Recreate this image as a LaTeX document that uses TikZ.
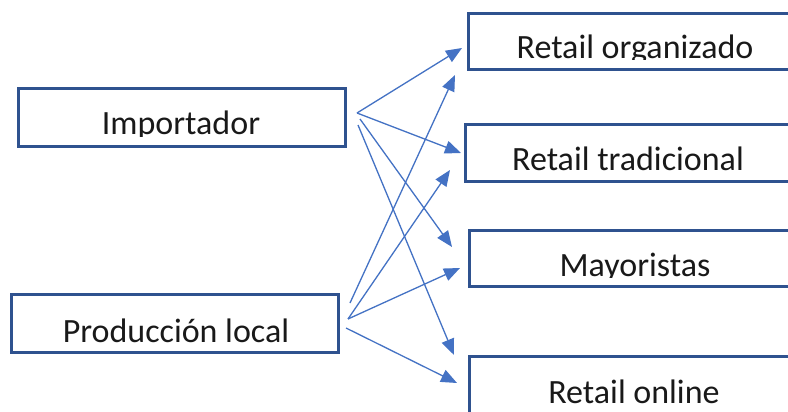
\documentclass[tikz,border=0pt]{standalone}
\usepackage{fontspec}
\setmainfont{Carlito}
\usetikzlibrary{arrows.meta}
\definecolor{boxblue}{HTML}{2F528F}
\definecolor{arrblue}{HTML}{4472C4}
\begin{document}
\begin{tikzpicture}[x=1pt,y=-1pt,
  box/.style={draw=boxblue, line width=3pt, inner sep=0pt, outer sep=0pt, fill=white},
  lbl/.style={anchor=base, inner sep=0pt, font=\fontsize{34}{40}\selectfont, text=black!90},
  conn/.style={draw=arrblue, line width=1.3pt, -{Triangle[length=16pt,width=13pt]}}]
\clip (0,0) rectangle (788,412);
\fill[white] (0,0) rectangle (788,412);
% boxes
\node[box, minimum width=327pt, minimum height=58pt] (imp) at (182,117.5) {};
\node[box, minimum width=327pt, minimum height=58pt] (prod) at (175,323.5) {};
\node[box, minimum width=341.5pt, minimum height=56pt] (org) at (639.25,41.5) {};
\node[box, minimum width=344.5pt, minimum height=57pt] (trad) at (637.75,153) {};
\node[box, minimum width=340.5pt, minimum height=56pt] (may) at (639.75,258.5) {};
\node[box, minimum width=340.5pt, minimum height=73.5pt] (onl) at (639.75,393.25) {};
% labels (clipped just below the baseline, as in the picture)
\begin{scope}\clip (0,0) rectangle (788,136);
\node[lbl] (timp) at (181,135) {Importador};\end{scope}
\begin{scope}\clip (0,0) rectangle (788,343);
\node[lbl] (tprod) at (176,342) {Producción local};\end{scope}
\begin{scope}\clip (0,0) rectangle (788,60);
\node[lbl] (torg) at (635,59) {Retail organizado};\end{scope}
\begin{scope}\clip (0,0) rectangle (788,172);
\node[lbl] (ttrad) at (628,171) {Retail tradicional};\end{scope}
\begin{scope}\clip (0,0) rectangle (788,277);
\node[lbl] (tmay) at (635,276) {Mayoristas};\end{scope}
\begin{scope}\clip (0,0) rectangle (788,404);
\node[lbl] (tonl) at (634,403) {Retail online};\end{scope}
% connector ends
\coordinate (i1) at ([shift={(11.5,-4.5)}]imp.east);
\coordinate (i2) at ([shift={(14.5,1.5)}]imp.east);
\coordinate (i3) at ([shift={(12.5,7.5)}]imp.east);
\coordinate (p1) at ([shift={(11.5,-20.5)}]prod.east);
\coordinate (p2) at ([shift={(9.5,-4.5)}]prod.east);
\coordinate (p3) at ([shift={(7.5,4.5)}]prod.east);
\coordinate (org1) at ([shift={(-6.5,6.5)}]org.west);
\coordinate (org2) at ([shift={(-13.5,33.5)}]org.west);
\coordinate (trad1) at ([shift={(-4.5,0)}]trad.west);
\coordinate (trad2) at ([shift={(-15.5,17)}]trad.west);
\coordinate (may1) at ([shift={(-17.5,-11.5)}]may.west);
\coordinate (may2) at ([shift={(-9.5,9.5)}]may.west);
\coordinate (onl1) at ([shift={(-15.5,-38.25)}]onl.west);
\coordinate (onl2) at ([shift={(-12.5,-10.25)}]onl.west);
% connectors
\draw[conn] (i1) -- (org1);
\draw[conn] (i1) -- (trad1);
\draw[conn] (i2) -- (may1);
\draw[conn] (i3) -- (onl1);
\draw[conn] (p1) -- (org2);
\draw[conn] (p2) -- (trad2);
\draw[conn] (p2) -- (may2);
\draw[conn] (p3) -- (onl2);
\end{tikzpicture}
\end{document}
